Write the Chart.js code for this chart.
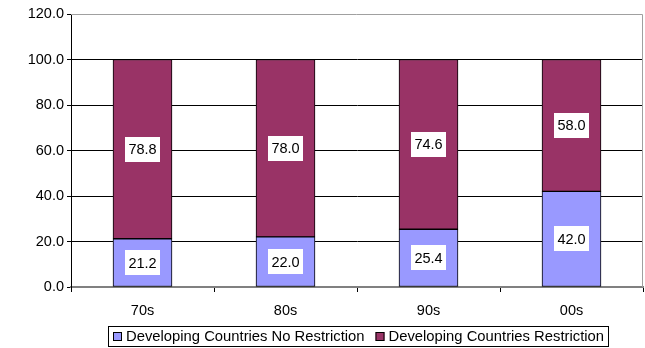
<!DOCTYPE html>
<html>
<head>
<meta charset="utf-8">
<script src="https://cdn.jsdelivr.net/npm/chart.js@4.4.0/dist/chart.umd.min.js"></script>
<style>
html,body{margin:0;padding:0;background:#fff;}
#wrap{width:645px;height:348px;position:relative;}
</style>
</head>
<body>
<div id="wrap"><canvas id="c" width="645" height="348"></canvas></div>
<script>
const categories = ['70s', '80s', '90s', '00s'];
const noRestriction = [21.2, 22.0, 25.4, 42.0];
const restriction = [78.8, 78.0, 74.6, 58.0];
const seriesNames = ['Developing Countries No Restriction', 'Developing Countries Restriction'];
const yTicks = [0, 20, 40, 60, 80, 100, 120];

const FONT = '"Liberation Sans", Arial, sans-serif';
const FS = 14.5;

const dataLabels = {
  id: 'dataLabels',
  afterDatasetsDraw(chart) {
    const ctx = chart.ctx;
    ctx.save();
    ctx.font = FS + 'px ' + FONT;
    ctx.textAlign = 'center';
    ctx.textBaseline = 'middle';
    chart.data.datasets.forEach((ds, i) => {
      const meta = chart.getDatasetMeta(i);
      meta.data.forEach((bar, j) => {
        const txt = ds.data[j].toFixed(1);
        const cy = (bar.y + bar.base) / 2;
        const w = 35, h = 25;
        ctx.fillStyle = '#ffffff';
        ctx.fillRect(Math.round(bar.x - w / 2), Math.round(cy - h / 2), w, h);
        ctx.fillStyle = '#000000';
        ctx.fillText(txt, bar.x, cy + 1);
      });
    });
    ctx.restore();
  }
};

const frame = {
  id: 'frame',
  beforeDatasetsDraw(chart) {
    const a = chart.chartArea, ctx = chart.ctx;
    ctx.save();
    ctx.strokeStyle = '#a0a0a0';
    ctx.lineWidth = 1;
    ctx.beginPath();
    ctx.moveTo(a.left, a.top + 0.5);
    ctx.lineTo(a.right - 0.5, a.top + 0.5);
    ctx.lineTo(a.right - 0.5, a.bottom);
    ctx.stroke();
    ctx.restore();
  }
};

const customLegend = {
  id: 'customLegend',
  afterDraw(chart) {
    const ctx = chart.ctx;
    ctx.save();
    ctx.font = '14.8px ' + FONT;
    ctx.textBaseline = 'middle';
    const box = 9, gapBox = 4, gapItem = 11, padL = 5, padR = 4;
    const widths = chart.data.datasets.map(d => ctx.measureText(d.label).width);
    let total = padL + padR;
    widths.forEach((w, i) => { total += box + gapBox + w + (i < widths.length - 1 ? gapItem : 0); });
    total = Math.round(total);
    const left = Math.round(357.5 - total / 2);
    const top = 326, h = 20;
    ctx.strokeStyle = '#000';
    ctx.lineWidth = 1;
    ctx.strokeRect(left + 0.5, top + 0.5, total, h);
    let x = left + padL;
    const cy = top + h / 2 + 1;
    chart.data.datasets.forEach((d, i) => {
      ctx.fillStyle = d.backgroundColor;
      ctx.fillRect(x, Math.round(cy - 5), box, box);
      ctx.strokeStyle = '#000';
      ctx.strokeRect(x + 0.5, Math.round(cy - 5) + 0.5, box - 1, box - 1);
      x += box + gapBox;
      ctx.fillStyle = '#000';
      ctx.fillText(d.label, x, cy);
      x += widths[i] + gapItem;
    });
    ctx.restore();
  }
};

new Chart(document.getElementById('c'), {
  type: 'bar',
  data: {
    labels: categories,
    datasets: [
      { label: seriesNames[0], data: noRestriction, backgroundColor: '#9999FF', borderColor: '#000', borderWidth: 1, borderSkipped: false, barThickness: 59 },
      { label: seriesNames[1], data: restriction, backgroundColor: '#993366', borderColor: '#000', borderWidth: 1, borderSkipped: false, barThickness: 59 }
    ]
  },
  options: {
    responsive: false,
    animation: false,
    layout: { padding: { top: 14, right: 2, left: 0, bottom: 0 } },
    plugins: { legend: { display: false }, tooltip: { enabled: false } },
    scales: {
      x: {
        stacked: true,
        offset: true,
        grid: { offset: true, drawOnChartArea: false, color: '#000', tickLength: 5, tickWidth: 1 },
        border: { color: '#808080', width: 2 },
        ticks: { color: '#000', font: { family: FONT, size: FS }, padding: 10 },
        afterFit(s) { s.height = 61; }
      },
      y: {
        stacked: true,
        min: 0, max: 120,
        afterBuildTicks(s) { s.ticks = yTicks.map(v => ({ value: v })); },
        grid: {
          color: ctx => (ctx.tick && (ctx.tick.value === 120 || ctx.tick.value === 0)) ? 'rgba(0,0,0,0)' : '#000',
          tickColor: '#000',
          tickLength: 4
        },
        border: { color: '#000', width: 1 },
        ticks: { color: '#000', font: { family: FONT, size: FS }, padding: 3, callback: v => Number(v).toFixed(1) },
        afterFit(s) { s.width = 71; }
      }
    }
  },
  plugins: [frame, dataLabels, customLegend]
});
</script>
</body>
</html>
